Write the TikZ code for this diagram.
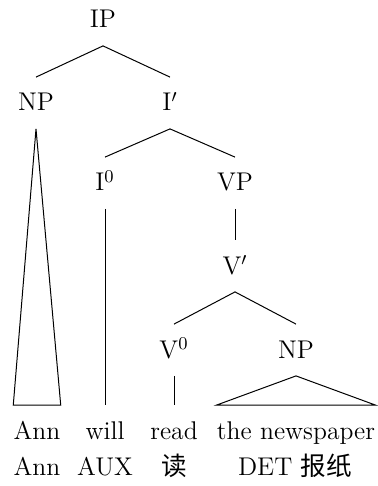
\documentclass[tikz,border=0pt]{standalone}
\usepackage{fontspec}
\newfontfamily\cjk{Noto Sans CJK SC}
\usepackage{tikz}
\usetikzlibrary{positioning}
\tikzset{
    cat/.style={
        inner xsep=0pt,
        inner ysep=8.25pt,
        text height=8.5pt,
        text depth=0.5pt
    },
    word/.style={cat},
    gloss/.style={cat},
    branch/.style={draw, line width=0.5pt},
    roof/.style={draw, line width=0.5pt}
}
\begin{document}
\begin{tikzpicture}[x=0.5pt, y=-0.5pt,
            font=\fontsize{12.8}{15}\selectfont]
    \useasboundingbox (0,0) rectangle (377,486);
    % tree
    \node[cat] (IP) at (103,20) {IP};
    \node[cat] (NPsubj) at (36,103) {NP};
    \node[cat] (Ibar) at (170,103) {I$'$};
    \node[cat] (I0) at (105,183) {I$^0$};
    \node[cat] (VP) at (235,183) {VP};
    \node[cat] (Vbar) at (235,266) {V$'$};
    \node[cat] (V0) at (174,350) {V$^0$};
    \node[cat] (NPobj) at (296,350) {NP};
    % words
    \node[word] (ann) at (37,431) {Ann};
    \node[word] (will) at (105,431) {will};
    \node[word] (read) at (174,431) {read};
    \node[word] (paper) at (296,431) {the newspaper};
    % glosses
    \node[gloss] (annG) at (37,467) {Ann};
    \node[gloss] (willG) at (105,467) {AUX};
    \node[gloss] (readG) at (174,467) {\cjk 读};
    \node[gloss] (paperG) at (295,467) {DET {\cjk 报纸}};

    \draw[branch] (IP.south) -- (NPsubj.north);
    \draw[branch] (IP.south) -- (Ibar.north);
    \draw[branch] (Ibar.south) -- (I0.north);
    \draw[branch] (Ibar.south) -- (VP.north);
    \draw[branch] (VP.south) -- (Vbar.north);
    \draw[branch] (Vbar.south) -- (V0.north);
    \draw[branch] (Vbar.south) -- (NPobj.north);
    \draw[branch] (I0.south) -- (will.north);
    \draw[branch] (V0.south) -- (read.north);
    \draw[roof] (NPsubj.south) -- (ann.north west) -- (ann.north east) -- cycle;
    \draw[roof] (NPobj.south) -- (paper.north west) -- (paper.north east) -- cycle;
\end{tikzpicture}
\end{document}
